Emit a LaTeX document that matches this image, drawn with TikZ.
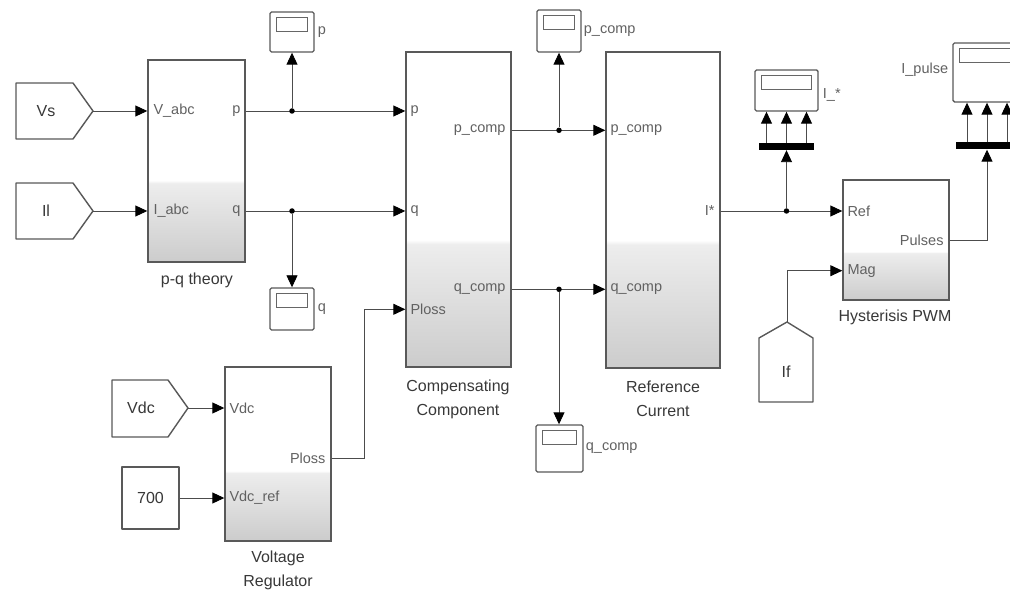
\documentclass[tikz,border=0pt]{standalone}
\usepackage{fontspec}
\setmainfont{Liberation Sans}
\usetikzlibrary{arrows.meta,calc}
\pgfdeclareverticalshading{blkshade}{100bp}{color(0bp)=(black!20); color(25bp)=(black!20); color(44.5bp)=(black!7); color(45.2bp)=(white); color(100bp)=(white)}
\newcommand{\myscope}[5]{%
  \node[scp, minimum width=#4pt, minimum height=#5pt] (#1) at (#2,#3) {};
  \draw[draw=black!60, line width=1.1pt] ($(#1.north west)+(7,6)$) rectangle ($(#1.north east)+(-7,20)$);
}
\begin{document}
\begin{tikzpicture}[x=1pt,y=-1pt,
  wire/.style={draw=black!70, line width=0.9pt},
  arr/.style={wire, -{Triangle[length=12pt,width=11pt,color=black]}},
  blk/.style={draw=black!65, line width=1.4pt, shading=blkshade, inner sep=0pt},
  port/.style={font=\fontsize{14.5}{16}\selectfont, text=black!62, inner sep=1pt},
  bname/.style={font=\fontsize{16}{24}\selectfont, text=black!78, align=center},
  tag/.style={draw=black!65, line width=1.4pt, fill=white, line join=round},
  tagtext/.style={font=\fontsize{16}{18}\selectfont, text=black!78},
  scp/.style={draw=black!65, line width=1.4pt, fill=white, rounded corners=1.5pt, inner sep=0pt},
  bar/.style={fill=black, inner sep=0pt, minimum height=7pt},
  dot/.style={circle, fill=black, inner sep=0pt, minimum size=5.5pt},
]
\useasboundingbox (0,0) rectangle (1010,596);

% ---------- blocks ----------
\node[blk, minimum width=97pt, minimum height=202pt] (pq) at (196.5,161) {};
\node[blk, minimum width=105pt, minimum height=315pt] (comp) at (458.5,209.5) {};
\node[blk, minimum width=114pt, minimum height=316pt] (ref) at (663,210) {};
\node[blk, minimum width=106pt, minimum height=120pt] (hy) at (896,240) {};
\node[blk, minimum width=106pt, minimum height=174pt] (vr) at (278,454) {};

% ---------- tags ----------
\draw[tag] (16,83) -- (73,83) -- (93,111) -- (73,139) -- (16,139) -- cycle;
\node[tagtext] (vs) at (46,111) {Vs};
\coordinate (vs-tip) at (93,111);
\draw[tag] (16,183) -- (73,183) -- (93,211) -- (73,239) -- (16,239) -- cycle;
\node[tagtext] (il) at (46,211) {Il};
\coordinate (il-tip) at (93,211);
\draw[tag] (112,380) -- (168,380) -- (188,408) -- (168,437) -- (112,437) -- cycle;
\node[tagtext] (vdc) at (141,408) {Vdc};
\coordinate (vdc-tip) at (188,408);
\node[tag, minimum width=57pt, minimum height=62pt, inner sep=0pt] (k700) at (150.5,498) {};
\node[tagtext] at (k700) {700};
\draw[tag] (759,402) -- (759,338) -- (787,322) -- (813,338) -- (813,402) -- cycle;
\node[tagtext] (iff) at (786,372) {If};
\coordinate (if-tip) at (787,322);

% ---------- scopes ----------
\myscope{sp}{292}{32}{44}{40}
\myscope{sq}{292}{309}{44}{42}
\myscope{spc}{559}{31}{44}{42}
\myscope{sqc}{559.5}{448.5}{47}{47}
\myscope{sI}{786.5}{90.5}{63}{41}
\myscope{sIp}{988}{72.5}{70}{59}
\node[port, anchor=west] at ($(sp.east)+(2,0)$) {p};
\node[port, anchor=west] at ($(sq.east)+(2,0)$) {q};
\node[port, anchor=west] at ($(spc.east)+(1,0)$) {p\_comp};
\node[port, anchor=west] at ($(sqc.east)+(1,0)$) {q\_comp};
\node[port, anchor=west] at ($(sI.east)+(3,4)$) {I\_*};
\node[port, anchor=east] at ($(sIp.west)+(-3,-3)$) {I\_pulse};

% ---------- bus bars ----------
\node[bar, minimum width=55pt] (bar1) at (786.5,146.5) {};
\node[bar, minimum width=62pt] (bar2) at (987,146) {};
\foreach \dx in {-20,0,20}{
  \draw[arr] ($(bar1.north)+(\dx,0)$) -- ($(sI.south)+(\dx,0)$);
  \draw[arr] ($(bar2.north)+(\dx,0)$) -- ($(sIp.south)+(\dx-1,0)$);
}

% ---------- port labels ----------
\node[port, anchor=west] at ($(pq.west |- vs-tip)+(5,0)$) {V\_abc};
\node[port, anchor=west] at ($(pq.west |- il-tip)+(5,0)$) {I\_abc};
\node[port, anchor=east] (pq-p-l) at ($(pq.east |- vs-tip)+(-4,0)$) {p};
\node[port, anchor=east] (pq-q-l) at ($(pq.east |- il-tip)+(-4,0)$) {q};
\coordinate (pq-p) at (pq.east |- vs-tip);
\coordinate (pq-q) at (pq.east |- il-tip);

\node[port, anchor=west] at ($(comp.west |- vs-tip)+(4,0)$) {p};
\node[port, anchor=west] at ($(comp.west |- il-tip)+(4,0)$) {q};
\coordinate (c-pl) at ($(comp.north west)+(0,258)$);
\node[port, anchor=west] at ($(c-pl)+(4,0)$) {Ploss};
\coordinate (c-pc) at ($(comp.north east)+(0,79)$);
\coordinate (c-qc) at ($(comp.north east)+(0,238)$);
\node[port, anchor=east] at ($(c-pc)+(-5,0)$) {p\_comp};
\node[port, anchor=east] at ($(c-qc)+(-5,0)$) {q\_comp};

\node[port, anchor=west] at ($(ref.west |- c-pc)+(4,0)$) {p\_comp};
\node[port, anchor=west] at ($(ref.west |- c-qc)+(4,0)$) {q\_comp};
\coordinate (r-i) at (ref.east |- il-tip);
\node[port, anchor=east] at ($(r-i)+(-5,0)$) {I*};

\coordinate (hy-ref) at (hy.west |- il-tip);
\coordinate (hy-pul) at (hy.east);
\coordinate (hy-mag) at ($(hy.south west)+(0,-30)$);
\node[port, anchor=west] at ($(hy-ref)+(4,0)$) {Ref};
\node[port, anchor=east] at ($(hy-pul)+(-5,0)$) {Pulses};
\node[port, anchor=west] at ($(hy-mag)+(4,0)$) {Mag};

\coordinate (vr-vdc) at (vr.west |- vdc-tip);
\coordinate (vr-ref) at (vr.west |- k700.east);
\coordinate (vr-pl) at ($(vr.north east)+(0,92)$);
\node[port, anchor=west] at ($(vr-vdc)+(4,0)$) {Vdc};
\node[port, anchor=west] at ($(vr-ref)+(4,0)$) {Vdc\_ref};
\node[port, anchor=east] at ($(vr-pl)+(-5,0)$) {Ploss};

% ---------- block names ----------
\node[bname] (pqname) at (197,280) {p-q theory};
\node[bname] (compname) at (458,399) {Compensating\\Component};
\node[bname] (refname) at (663,399) {Reference\\Current};
\node[bname] (hyname) at (895,317) {Hysterisis PWM};
\node[bname] (vrname) at (278,570) {Voltage\\Regulator};

% ---------- connectors ----------
\draw[arr] (vs-tip) -- (pq.west |- vs-tip);
\draw[arr] (il-tip) -- (pq.west |- il-tip);
\draw[arr] (vdc-tip) -- (vr-vdc);
\draw[arr] (k700.east) -- (vr-ref);

\draw[arr] (pq-p) -- (comp.west |- pq-p);
\draw[arr] (pq-q) -- (comp.west |- pq-q);
\node[dot] (j1) at (sp.south |- pq-p) {};
\node[dot] (j2) at (sq.north |- pq-q) {};
\draw[arr] (j1) -- (sp.south);
\draw[arr] (j2) -- (sq.north);

\draw[arr] (vr-pl) -- ++(33,0) |- (c-pl);

\draw[arr] (c-pc) -- (ref.west |- c-pc);
\draw[arr] (c-qc) -- (ref.west |- c-qc);
\node[dot] (j3) at (spc.south |- c-pc) {};
\node[dot] (j4) at (spc.south |- c-qc) {};
\draw[arr] (j3) -- (spc.south);
\draw[arr] (j4) -- (j4 |- sqc.north);

\draw[arr] (r-i) -- (hy-ref);
\node[dot] (j5) at (bar1.south |- r-i) {};
\draw[arr] (j5) -- (bar1.south);

\draw[arr] (if-tip) |- (hy-mag);
\draw[arr] (hy-pul) -| (bar2.south);
\end{tikzpicture}
\end{document}
